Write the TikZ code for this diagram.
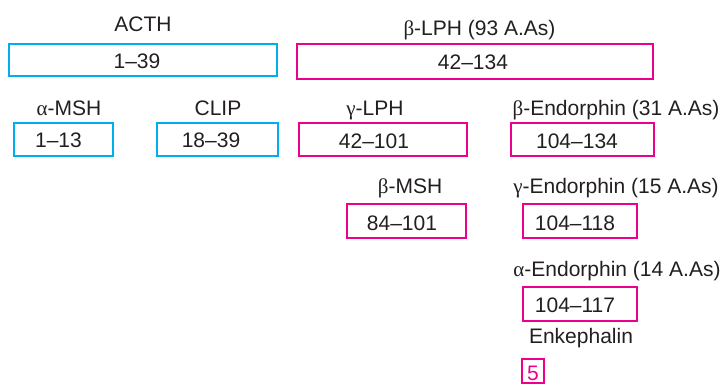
\documentclass[tikz,border=0pt]{standalone}
\usepackage{fontspec}
\setmainfont{Liberation Sans}
\newfontfamily\gk{Liberation Serif}
\definecolor{cyanbox}{RGB}{0,174,239}
\definecolor{pinkbox}{RGB}{236,0,140}
\definecolor{txt}{RGB}{35,31,32}
\tikzset{
  cbox/.style={draw=cyanbox, line width=1.4pt, rectangle, inner sep=0pt, outer sep=0pt},
  pbox/.style={draw=pinkbox, line width=1.4pt, rectangle, inner sep=0pt, outer sep=0pt},
  lab/.style={anchor=base, inner sep=0pt, text=txt, font=\fontsize{21}{25}\selectfont},
}
\begin{document}
\begin{tikzpicture}[x=1pt,y=-1pt]
\useasboundingbox (0,0) rectangle (727,384);
% boxes
\node[cbox, minimum width=268pt, minimum height=32pt] (acthbox) at (143,60) {};
\node[pbox, minimum width=356pt, minimum height=35pt] (lphbox) at (475,61.5) {};
\node[cbox, minimum width=99pt, minimum height=33pt] (amshbox) at (63.5,139.5) {};
\node[cbox, minimum width=121pt, minimum height=33pt] (clipbox) at (217.5,139.5) {};
\node[pbox, minimum width=168pt, minimum height=33pt] (glphbox) at (383,139.5) {};
\node[pbox, minimum width=143pt, minimum height=33pt] (bendbox) at (582.5,139.5) {};
\node[pbox, minimum width=119pt, minimum height=34pt] (bmshbox) at (406.5,221) {};
\node[pbox, minimum width=114pt, minimum height=34pt] (gendbox) at (580,221) {};
\node[pbox, minimum width=114pt, minimum height=34pt] (aendbox) at (580,304) {};
\node[pbox, minimum width=22pt, minimum height=24pt] (fivebox) at (533,371) {};
% labels
\node[lab] (acth) at (143,31) {ACTH};
\node[lab] (acthn) at (137,68) {1–39};
\node[lab] (lph) at (479.5,35) {{\gk β}-LPH (93 A.As)};
\node[lab] (lphn) at (473,69) {42–134};
\node[lab] (amsh) at (69,115) {{\gk α}-MSH};
\node[lab] (clip) at (218,115) {CLIP};
\node[lab] (amshn) at (58.5,147) {1–13};
\node[lab] (clipn) at (211,147) {18–39};
\node[lab] (glph) at (375,115) {{\gk γ}-LPH};
\node[lab] (bend) at (616,115) {{\gk β}-Endorphin (31 A.As)};
\node[lab] (glphn) at (374,148) {42–101};
\node[lab] (bendn) at (577,148) {104–134};
\node[lab] (bmsh) at (410,193) {{\gk β}-MSH};
\node[lab] (gend) at (616,193) {{\gk γ}-Endorphin (15 A.As)};
\node[lab] (bmshn) at (402,230) {84–101};
\node[lab] (gendn) at (575,230) {104–118};
\node[lab] (aend) at (617,276) {{\gk α}-Endorphin (14 A.As)};
\node[lab] (aendn) at (575,312) {104–117};
\node[lab] (enk) at (581,343) {Enkephalin};
\node[lab, text=pinkbox] (five) at (533,380) {5};
\end{tikzpicture}
\end{document}
